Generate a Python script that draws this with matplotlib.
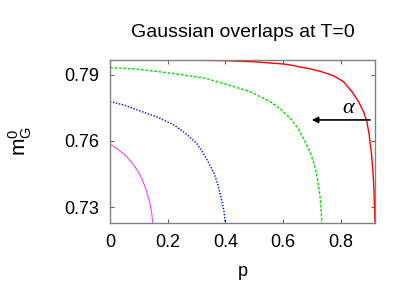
import numpy as np
import matplotlib
matplotlib.use("Agg")
import matplotlib.pyplot as plt

plt.rcParams['font.family'] = ['Liberation Sans', 'DejaVu Sans']
plt.rcParams['mathtext.fontset'] = 'custom'
plt.rcParams['mathtext.rm'] = 'Liberation Sans'
plt.rcParams['mathtext.it'] = 'Liberation Sans'

# curves: p vs m_G^0
p_red = [0.0, 0.2, 0.3, 0.4, 0.5, 0.55, 0.6, 0.63, 0.659, 0.69, 0.728, 0.774, 0.809,
         0.838, 0.861, 0.878, 0.890, 0.898, 0.906, 0.911, 0.914, 0.916, 0.918]
m_red = [0.7966, 0.7966, 0.7965, 0.7963, 0.7958, 0.7953, 0.7948, 0.7942, 0.7934, 0.7927,
         0.7915, 0.7895, 0.7868, 0.7823, 0.7778, 0.7733, 0.7687, 0.7627, 0.7540, 0.7461,
         0.7390, 0.7310, 0.7229]

p_green = [0.0, 0.1, 0.214, 0.330, 0.4, 0.485, 0.555, 0.59, 0.624, 0.65, 0.670,
           0.69, 0.705, 0.715, 0.722, 0.728, 0.731, 0.734]
m_green = [0.7932, 0.7924, 0.7906, 0.7884, 0.7857, 0.7823, 0.7778, 0.7745, 0.7703, 0.7660,
           0.7612, 0.7560, 0.7506, 0.7455, 0.7401, 0.7345, 0.7295, 0.7229]

p_blue = [0.0, 0.05, 0.100, 0.16, 0.217, 0.26, 0.300, 0.32, 0.338, 0.36, 0.372,
          0.381, 0.389, 0.395, 0.399]
m_blue = [0.7778, 0.7762, 0.7737, 0.7710, 0.7676, 0.7636, 0.7590, 0.7552, 0.7510, 0.7455,
          0.7410, 0.7363, 0.7320, 0.7280, 0.7229]

p_mag = [0.0, 0.025, 0.052, 0.075, 0.098, 0.115, 0.127, 0.137, 0.144, 0.146, 0.148]
m_mag = [0.7585, 0.7565, 0.7537, 0.7503, 0.7461, 0.7415, 0.7371, 0.7325, 0.7280, 0.7255, 0.7229]

xticks = [0, 0.2, 0.4, 0.6, 0.8]
xticklabels = ['0', '0.2', '0.4', '0.6', '0.8']
yticks = [0.73, 0.76, 0.79]

W, H = 411, 288
fig = plt.figure(figsize=(W / 100, H / 100), dpi=100)
ax = fig.add_axes([110 / W, 1 - 223 / H, 265 / W, 163 / H])

ax.plot(p_red, m_red, color='#ff0000', lw=1.0, ls='-')
ax.plot(p_green, m_green, color='#00e000', lw=1.0, ls=(0, (2, 1.2)))
ax.plot(p_blue, m_blue, color='#0000ff', lw=1.0, ls=(0, (1, 1.2)))
ax.plot(p_mag, m_mag, color='#ff40ff', lw=0.8, ls='-')

ax.annotate('', xy=(0.699, 0.7695), xytext=(0.901, 0.7695),
            arrowprops=dict(arrowstyle='-|>', color='black', lw=1.2,
                            mutation_scale=9, shrinkA=0, shrinkB=0))
ax.text(0.825, 0.7745, '\u03b1', fontsize=16, ha='center', va='center',
        family='Liberation Serif', style='italic')

ax.set_xlim(0, 0.918)
ax.set_ylim(0.7229, 0.7966)
ax.set_xticks(xticks)
ax.set_xticklabels(xticklabels)
ax.set_yticks(yticks)
ax.tick_params(direction='in', length=3, width=0.8, color='#606060',
               top=True, right=True, labelsize=13, pad=8)
for s in ax.spines.values():
    s.set_color('#808080')
    s.set_linewidth(1.0)

fig.text(243 / W, 1 - 272 / H, 'p', fontsize=13, ha='center', va='center')
fig.text(20 / W, 1 - 141 / H, r'$\mathrm{m}_\mathrm{G}^\mathrm{0}$', fontsize=15,
         ha='center', va='center', rotation=90)
fig.text(243 / W, 1 - 36.7 / H, 'Gaussian overlaps at T=0', fontsize=14,
         ha='center', va='baseline')

fig.savefig('out.png', dpi=100)
